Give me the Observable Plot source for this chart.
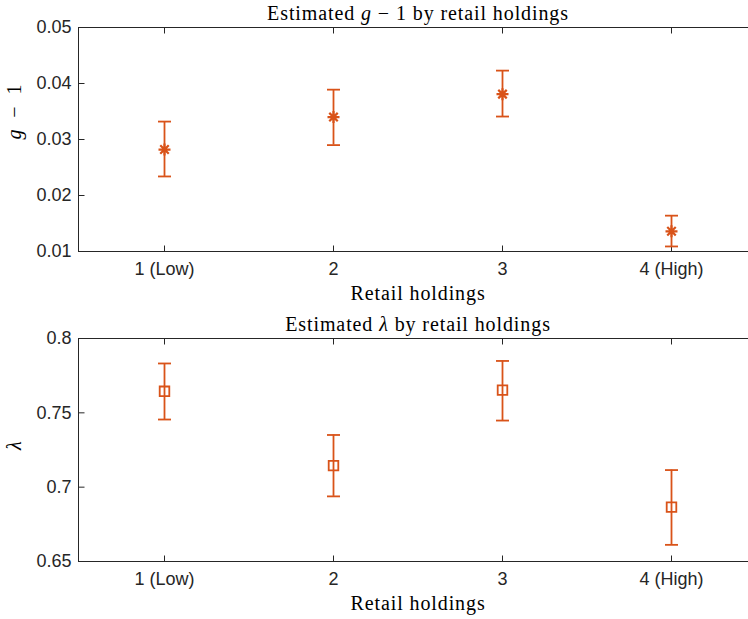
<!DOCTYPE html>
<html><head><meta charset="utf-8">
<script src="https://cdn.jsdelivr.net/npm/d3@7"></script>
<script src="https://cdn.jsdelivr.net/npm/@observablehq/plot@0.6"></script>
<style>
html,body{margin:0;padding:0;background:#fff;overflow:hidden;width:748px;height:619px}
#chart{width:748px;overflow:hidden}
#chart svg{display:block;max-width:none !important;}
</style></head><body><div id="chart"></div>
<script>
// ---- data ----
const categories = ["1 (Low)", "2", "3", "4 (High)"];
const gEst  = [0.0282, 0.0340, 0.0381, 0.0136];
const gLow  = [0.0234, 0.0290, 0.0341, 0.0109];
const gHigh = [0.0332, 0.0389, 0.0423, 0.0164];
const gTicks = [0.01, 0.02, 0.03, 0.04, 0.05];
const lamEst  = [0.7645, 0.7145, 0.7653, 0.6866];
const lamLow  = [0.7455, 0.6938, 0.7448, 0.6612];
const lamHigh = [0.7832, 0.7351, 0.7849, 0.7115];
const lamTicks = [0.65, 0.7, 0.75, 0.8];
const xLabel = "Retail holdings";

const ORANGE = "#D95319";
const AXIS = "#262626";
const SANS = "'Liberation Sans', Arial, sans-serif";
const SERIF = "'Liberation Serif', 'Times New Roman', serif";

function lineSymbol(fn) { return {draw(ctx, size) { const r = Math.sqrt(size / Math.PI); fn(ctx, r); }}; }
const capSym = lineSymbol((c, r) => { c.moveTo(-r, 0); c.lineTo(r, 0); });
const tickRight = lineSymbol((c, r) => { c.moveTo(0, 0); c.lineTo(r, 0); });
const tickUp = lineSymbol((c, r) => { c.moveTo(0, 0); c.lineTo(0, -r); });
const tickDown = lineSymbol((c, r) => { c.moveTo(0, 0); c.lineTo(0, r); });
const starSym = lineSymbol((c, r) => {
  c.moveTo(-r, 0); c.lineTo(r, 0); c.moveTo(0, -r); c.lineTo(0, r);
  const d = r * 0.7071;
  c.moveTo(-d, -d); c.lineTo(d, d); c.moveTo(-d, d); c.lineTo(d, -d);
});
const squareSym = lineSymbol((c, r) => { c.rect(-r, -r, 2 * r, 2 * r); });

function italicize(t, sym) {
  const s = t.textContent;
  const k = s.indexOf(sym);
  if (k < 0) return;
  t.textContent = "";
  if (k > 0) t.appendChild(document.createTextNode(s.slice(0, k)));
  const ts = document.createElementNS("http://www.w3.org/2000/svg", "tspan");
  ts.setAttribute("font-style", "italic");
  ts.textContent = sym;
  t.appendChild(ts);
  const rest = s.slice(k + sym.length);
  if (rest) t.appendChild(document.createTextNode(rest));
}

function panel(o) {
  const rows = categories.map((c, i) => ({cat: c, est: o.est[i], lo: o.lo[i], hi: o.hi[i]}));
  const svg = Plot.plot({
    width: 757, height: o.height,
    marginLeft: 78, marginRight: 0, marginTop: o.marginTop, marginBottom: o.marginBottom,
    style: {fontFamily: SANS, fontSize: "18px", color: AXIS, background: "white", overflow: "visible"},
    x: {type: "point", domain: categories, padding: 0.5, axis: null},
    y: {domain: o.domain, axis: null},
    marks: [
      Plot.frame({stroke: AXIS, strokeWidth: 1}),
      Plot.axisY(o.ticks, {tickSize: 0, tickPadding: 7, tickFormat: d => String(d), label: null, fill: AXIS}),
      Plot.axisX(categories, {tickSize: 0, tickPadding: 11, label: null, fill: AXIS}),
      Plot.dot(o.ticks, {y: d => d, frameAnchor: "left", symbol: tickRight, r: 6, stroke: AXIS, strokeWidth: 1}),
      Plot.dot(categories, {x: d => d, frameAnchor: "bottom", symbol: tickUp, r: 6, stroke: AXIS, strokeWidth: 1}),
      Plot.dot(categories, {x: d => d, frameAnchor: "top", symbol: tickDown, r: 6, stroke: AXIS, strokeWidth: 1}),
      Plot.ruleX(rows, {x: "cat", y1: "lo", y2: "hi", stroke: ORANGE, strokeWidth: 1.8}),
      Plot.dot(rows, {x: "cat", y: "lo", symbol: capSym, r: 6.5, stroke: ORANGE, strokeWidth: 1.8}),
      Plot.dot(rows, {x: "cat", y: "hi", symbol: capSym, r: 6.5, stroke: ORANGE, strokeWidth: 1.8}),
      Plot.dot(rows, {x: "cat", y: "est", symbol: o.marker, r: o.markerR, stroke: ORANGE, strokeWidth: o.markerW, fill: "none"}),
      Plot.text([o.title], {text: d => d, frameAnchor: "top", dy: -14, lineAnchor: "middle", fontFamily: SERIF, fontSize: 20, fill: "#000"}),
      Plot.text([xLabel], {text: d => d, frameAnchor: "bottom", dy: 42, lineAnchor: "middle", fontFamily: SERIF, fontSize: 20, fill: "#000"}),
      Plot.text([o.ylabel], {text: d => d, frameAnchor: "left", dx: -64, rotate: -90, lineAnchor: "middle", fontFamily: SERIF, fontSize: 20, fill: "#000"})
    ]
  });
  svg.querySelectorAll("text").forEach(t => {
    const s = t.textContent;
    if (s === o.title || s === o.ylabel || s === xLabel) {
      t.setAttribute("letter-spacing", "0.9px");
      if (s !== xLabel) italicize(t, o.italic);
    }
  });
  return svg;
}

const chart = document.getElementById("chart");
chart.appendChild(panel({
  est: gEst, lo: gLow, hi: gHigh, ticks: gTicks, domain: [0.01, 0.05],
  marker: starSym, markerR: 6, markerW: 2.2,
  title: "Estimated g \u2212 1 by retail holdings", ylabel: "g\u2002\u2212\u20021", italic: "g",
  height: 310, marginTop: 27, marginBottom: 59
}));
chart.appendChild(panel({
  est: lamEst, lo: lamLow, hi: lamHigh, ticks: lamTicks, domain: [0.65, 0.8],
  marker: squareSym, markerR: 4.8, markerW: 1.8,
  title: "Estimated \u03bb by retail holdings", ylabel: "\u03bb", italic: "\u03bb",
  height: 309, marginTop: 28, marginBottom: 58
}));
</script></body></html>
